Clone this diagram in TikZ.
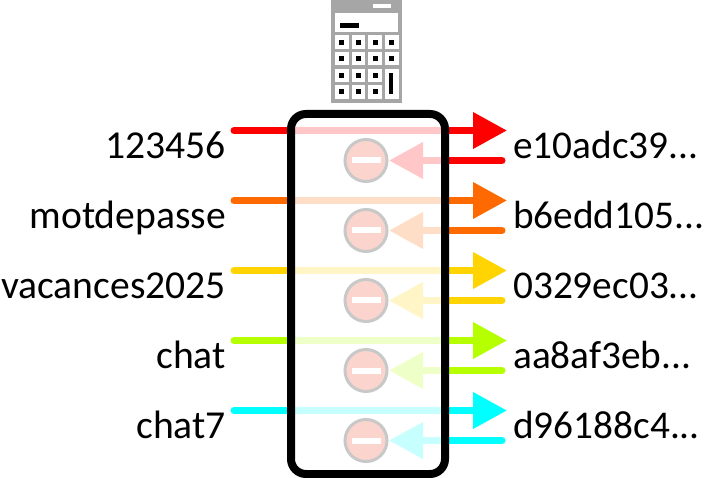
\documentclass[tikz,border=0pt]{standalone}
\usepackage{fontspec}
\setmainfont{Carlito}
\usetikzlibrary{arrows.meta}
\definecolor{cRed}{HTML}{FF0000}
\definecolor{cOrange}{HTML}{FF6A00}
\definecolor{cYellow}{HTML}{FFD400}
\definecolor{cGreen}{HTML}{B6FF00}
\definecolor{cCyan}{HTML}{00FFFF}
\definecolor{calcgray}{HTML}{A6A6A6}
\definecolor{signfill}{HTML}{FBD5CD}
\definecolor{signline}{HTML}{C8C8C8}
\newcommand{\threedots}{.{}.{}.}
\tikzset{
  x=1pt,y=-1pt,
  flow/.style={line width=7pt,line cap=round,-{Triangle[length=34pt,width=35pt,sharp]}},
  inlabel/.style={anchor=base east,inner sep=0pt,font=\fontsize{39.6}{39.6}\selectfont},
  outlabel/.style={anchor=base west,inner sep=0pt,font=\fontsize{39.3}{39.3}\selectfont},
  nogo/.style={circle,draw=signline,line width=3pt,fill=signfill,minimum size=42pt,inner sep=0pt},
  nobar/.style={fill=white,minimum width=29pt,minimum height=6pt,inner sep=0pt},
  key/.style={fill=white},
  dot/.style={fill=black},
}
\begin{document}
\begin{tikzpicture}
\useasboundingbox (0,0) rectangle (704,478);
% calculator icon
\fill[calcgray] (331,0) rectangle (402,103);
\fill[white] (373,4) rectangle (391,8);
\fill[white] (335,13) rectangle (398,32);
\fill[black] (340,23) rectangle (359,28);
\foreach \x in {335,351.7,368.3}{
  \foreach \y in {35.5,52,68.7,85.3}{
    \fill[key] (\x,\y) rectangle +(13.5,13.5);
    \fill[dot] (\x+4.2,\y+4.2) rectangle +(5,5);
  }
}
\foreach \y in {35.5,52}{
  \fill[key] (385,\y) rectangle +(13.5,13.5);
  \fill[dot] (389.2,\y+4.2) rectangle +(5,5);
}
\fill[key] (385,68.7) rectangle (398.5,99);
\fill[dot] (389,73) rectangle (393,94);
% rows
\foreach \n/\c/\yy/\intext/\outtext in {
  a/cRed/130.5/123456/e10adc39\threedots,
  b/cOrange/200.5/motdepasse/b6edd105\threedots,
  c/cYellow/270.5/vacances2025/0329ec03\threedots,
  d/cGreen/340.5/chat/aa8af3eb\threedots,
  e/cCyan/410.5/chat7/d96188c4\threedots}{
  \coordinate (in\n) at (234,\yy);
  \coordinate (out\n) at (507,\yy);
  \coordinate (back\n) at (502,\yy+30);
  \coordinate (stop\n) at (389,\yy+30);
  \draw[flow,draw=\c,fill=\c] (in\n) -- (out\n);
  \draw[flow,draw=\c,fill=\c] (back\n) -- (stop\n);
  \node[inlabel] (l\n) at (226,\yy+28) {\intext};
  \node[outlabel] (r\n) at (513,\yy+28) {\outtext};
}
% translucent interior of the box
\fill[white,fill opacity=0.78,rounded corners=15pt] (291,114) rectangle (445,474);
\draw[black,line width=8pt,rounded corners=15pt] (291,114) rectangle (445,474);
% stop signs
\foreach \n/\yy in {a/160.5,b/230.5,c/300.5,d/370.5,e/440.5}{
  \node[nogo] (sign\n) at (366,\yy) {};
  \node[nobar] at (sign\n) {};
}
\end{tikzpicture}
\end{document}
